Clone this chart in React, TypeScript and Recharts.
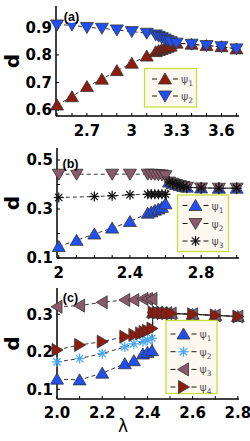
import React from 'react';
import { LineChart, Line, XAxis, YAxis } from 'recharts';

// ---------- Panel (a) ----------
const lamA = [2.5, 2.6, 2.7, 2.8, 2.9, 3.0, 3.1, 3.16, 3.18, 3.2, 3.22, 3.24, 3.26, 3.3, 3.4, 3.5, 3.6, 3.7];
const psiA1 = [0.618, 0.648, 0.685, 0.712, 0.743, 0.77, 0.796, 0.812, 0.816, 0.82, 0.824, 0.828, 0.832, 0.843, 0.839, 0.834, 0.83, 0.822];
const psiA2 = [0.909, 0.909, 0.9, 0.897, 0.891, 0.885, 0.879, 0.873, 0.868, 0.863, 0.858, 0.853, 0.848, 0.843, 0.839, 0.834, 0.83, 0.822];
const xTicksA = [2.5, 2.6, 2.7, 2.8, 2.9, 3.0, 3.1, 3.2, 3.3, 3.4, 3.5, 3.6, 3.7];
const xLabelsA = [2.7, 3.0, 3.3, 3.6];
const yTicksA = [0.6, 0.7, 0.8, 0.9];

// ---------- Panel (b) ----------
const lamBMerged = [2.62, 2.64, 2.66, 2.68, 2.7, 2.72, 2.8, 2.9, 3.0];
const psiBMerged = [0.41, 0.405, 0.4, 0.396, 0.392, 0.389, 0.386, 0.385, 0.385];
const lamB1 = [2.0, 2.1, 2.2, 2.3, 2.4, 2.5, 2.52, 2.54, 2.56, 2.58, 2.6];
const psiB1 = [0.147, 0.172, 0.198, 0.222, 0.249, 0.283, 0.288, 0.295, 0.3, 0.307, 0.321];
const lamB2 = [2.0, 2.1, 2.3, 2.4, 2.5, 2.52, 2.54, 2.56, 2.58, 2.6];
const psiB2 = [0.442, 0.442, 0.442, 0.442, 0.442, 0.442, 0.441, 0.44, 0.439, 0.436];
const lamB3 = [2.0, 2.2, 2.3, 2.4, 2.5, 2.52, 2.54, 2.56, 2.58, 2.6];
const psiB3 = [0.347, 0.351, 0.354, 0.358, 0.36, 0.36, 0.36, 0.36, 0.36, 0.36];
const xTicksB = [2.0, 2.1, 2.2, 2.3, 2.4, 2.5, 2.6, 2.7, 2.8, 2.9, 3.0];
const xLabelsB = [2.0, 2.4, 2.8];
const yTicksB = [0.1, 0.2, 0.3, 0.4, 0.5];
const yLabelsB = [0.1, 0.3, 0.5];

// ---------- Panel (c) ----------
const lamCMerged = [2.425, 2.445, 2.465, 2.485, 2.505, 2.6, 2.7, 2.8];
const psiCMerged = [0.305, 0.304, 0.303, 0.303, 0.302, 0.3, 0.297, 0.294];
const lamC123 = [2.0, 2.1, 2.2, 2.3, 2.34, 2.38, 2.4, 2.42];
const psiC1 = [0.127, 0.125, 0.143, 0.168, 0.176, 0.194, 0.198, 0.203];
const psiC2 = [0.173, 0.182, 0.195, 0.213, 0.221, 0.227, 0.231, 0.236];
const psiC3 = [0.32, 0.323, 0.332, 0.338, 0.338, 0.341, 0.341, 0.341];
const lamC4 = [2.0, 2.1, 2.2, 2.3, 2.34, 2.37, 2.385, 2.4, 2.42];
const psiC4 = [0.205, 0.218, 0.227, 0.24, 0.245, 0.249, 0.253, 0.256, 0.262];
const xTicksC = [2.0, 2.1, 2.2, 2.3, 2.4, 2.5, 2.6, 2.7, 2.8];
const xLabelsC = [2.0, 2.2, 2.4, 2.6, 2.8];
const yTicksC = [0.1, 0.2, 0.3];

const RED = '#8e1c0e';
const BLUE = '#2150f2';
const MAUVE = '#8a5a6a';
const LIGHTBLUE = '#4aa8f5';
const BLACK = '#111';

const zip = (xs: number[], ys: number[]) => xs.map((x, i) => ({ x, y: ys[i] }));
const has = (list: number[], v: number) => list.some((t) => Math.abs(t - v) < 1e-6);

type Kind = 'up' | 'down' | 'left' | 'right' | 'star';

function Marker({ kind, cx, cy, fill }: { kind: Kind; cx: number; cy: number; fill: string }) {
  if (cx == null || cy == null || isNaN(cx) || isNaN(cy)) return null;
  const edge = '#333';
  if (kind === 'star') {
    const r = 5;
    const d = r * 0.72;
    return (
      <g stroke={fill} strokeWidth={1.3}>
        <line x1={cx - r} y1={cy} x2={cx + r} y2={cy} />
        <line x1={cx} y1={cy - r} x2={cx} y2={cy + r} />
        <line x1={cx - d} y1={cy - d} x2={cx + d} y2={cy + d} />
        <line x1={cx - d} y1={cy + d} x2={cx + d} y2={cy - d} />
      </g>
    );
  }
  let pts = '';
  if (kind === 'up') pts = `${cx},${cy - 6} ${cx + 6.5},${cy + 5} ${cx - 6.5},${cy + 5}`;
  if (kind === 'down') pts = `${cx},${cy + 6} ${cx + 6.5},${cy - 5} ${cx - 6.5},${cy - 5}`;
  if (kind === 'left') pts = `${cx - 6},${cy} ${cx + 5},${cy - 6.5} ${cx + 5},${cy + 6.5}`;
  if (kind === 'right') pts = `${cx + 6},${cy} ${cx - 5},${cy - 6.5} ${cx - 5},${cy + 6.5}`;
  return <polygon points={pts} fill={fill} stroke={edge} strokeWidth={0.8} />;
}

type Series = { data: { x: number; y: number }[]; kind: Kind; fill: string };

const tickFont = { fontSize: 15, fontWeight: 'bold' as const, fill: '#000', fontFamily: 'DejaVu Sans' };
const axisLine = { stroke: '#000', strokeWidth: 1.5 };
const tickLine = { stroke: '#000', strokeWidth: 1 };

function Panel(props: {
  top: number;
  height: number;
  marginTop: number;
  bottomH: number;
  leftW: number;
  xDomain: [number, number];
  yDomain: [number, number];
  xTicks: number[];
  yTicks: number[];
  xFmt: (v: number) => string;
  yFmt: (v: number) => string;
  xMargin: number;
  series: Series[];
}) {
  const { top, height, marginTop, bottomH, leftW, xDomain, yDomain, xTicks, yTicks, xFmt, yFmt, xMargin, series } = props;
  return (
    <div style={{ position: 'absolute', left: 0, top, width: 250, height }}>
      <LineChart width={250} height={height} margin={{ top: marginTop, right: 11, bottom: 0, left: 0 }}>
        <XAxis xAxisId="b" type="number" dataKey="x" domain={xDomain} ticks={xTicks} interval={0}
          tickFormatter={xFmt} tickSize={-3} tickMargin={xMargin} height={bottomH}
          axisLine={axisLine} tickLine={tickLine} tick={tickFont} />
        <XAxis xAxisId="t" orientation="top" type="number" dataKey="x" domain={xDomain} ticks={xTicks} interval={0}
          tickFormatter={() => ''} tickSize={-3} height={0} axisLine={axisLine} tickLine={tickLine} />
        <YAxis yAxisId="l" type="number" dataKey="y" domain={yDomain} ticks={yTicks} interval={0}
          tickFormatter={yFmt} tickSize={-3} tickMargin={7} width={leftW}
          axisLine={axisLine} tickLine={tickLine} tick={tickFont} />
        <YAxis yAxisId="r" orientation="right" type="number" dataKey="y" domain={yDomain} ticks={yTicks} interval={0}
          tickFormatter={() => ''} tickSize={-3} width={0} axisLine={axisLine} tickLine={tickLine} />
        {series.map((s, si) => (
          <Line key={si} xAxisId="b" yAxisId="l" data={s.data} dataKey="y" type="linear"
            stroke="#000" strokeWidth={0.8} strokeDasharray="4 3" isAnimationActive={false}
            activeDot={false} legendType="none"
            dot={(p: any) => <Marker key={`m${si}-${p.index}`} kind={s.kind} cx={p.cx} cy={p.cy} fill={s.fill} />} />
        ))}
      </LineChart>
    </div>
  );
}

function LegendBox({ x, y, w, h, rows }: { x: number; y: number; w: number; h: number;
  rows: { kind: Kind; fill: string; sub: string; cy: number; mx: number }[] }) {
  return (
    <g>
      <rect x={x} y={y} width={w} height={h} fill="#fdf8ef" stroke="#c5df3c" strokeWidth={1.3} />
      {rows.map((r, i) => (
        <g key={i}>
          <line x1={r.mx - 13} y1={r.cy} x2={r.mx - 8} y2={r.cy} stroke="#000" strokeWidth={0.9} />
          <line x1={r.mx + 8} y1={r.cy} x2={r.mx + 13} y2={r.cy} stroke="#000" strokeWidth={0.9} />
          <Marker kind={r.kind} cx={r.mx} cy={r.cy} fill={r.fill} />
          <text x={r.mx + 16} y={r.cy + 4} fontSize={11} fill="#555" fontFamily="DejaVu Sans">
            ψ<tspan fontSize={7.5} dy={3}>{r.sub}</tspan>
          </text>
        </g>
      ))}
    </g>
  );
}

function PanelTag({ cx, cy, t }: { cx: number; cy: number; t: string }) {
  return (
    <g>
      <ellipse cx={cx} cy={cy} rx={8} ry={7} fill="#fff" />
      <text x={cx} y={cy + 4.5} textAnchor="middle" fontSize={12.5} fontWeight="bold" fontFamily="Liberation Sans">{t}</text>
    </g>
  );
}

function DLabel({ y }: { y: number }) {
  return (
    <text x={18.5} y={y} transform={`rotate(-90 18.5 ${y})`} textAnchor="middle" fontSize={20}
      fontWeight="bold" fontFamily="DejaVu Sans">d</text>
  );
}

export default function App() {
  const seriesA: Series[] = [
    { data: zip(lamA, psiA1), kind: 'up', fill: RED },
    { data: zip(lamA, psiA2), kind: 'down', fill: BLUE },
  ];
  const seriesB: Series[] = [
    { data: zip([...lamB1, ...lamBMerged], [...psiB1, ...psiBMerged]), kind: 'up', fill: BLUE },
    { data: zip([...lamB2, ...lamBMerged], [...psiB2, ...psiBMerged]), kind: 'down', fill: MAUVE },
    { data: zip([...lamB3, ...lamBMerged], [...psiB3, ...psiBMerged]), kind: 'star', fill: BLACK },
  ];
  const seriesC: Series[] = [
    { data: zip([...lamC123, ...lamCMerged], [...psiC1, ...psiCMerged]), kind: 'up', fill: BLUE },
    { data: zip([...lamC123, ...lamCMerged], [...psiC2, ...psiCMerged]), kind: 'star', fill: LIGHTBLUE },
    { data: zip([...lamC123, ...lamCMerged], [...psiC3, ...psiCMerged]), kind: 'left', fill: MAUVE },
    { data: zip([...lamC4, ...lamCMerged], [...psiC4, ...psiCMerged]), kind: 'right', fill: RED },
  ];
  return (
    <div style={{ position: 'absolute', left: 0, top: 0, width: 250, height: 441, background: '#fff', overflow: 'hidden' }}>
      <Panel top={0} height={140} marginTop={6} bottomH={24} leftW={56}
        xDomain={[2.493, 3.717]} yDomain={[0.578, 0.978]} xTicks={xTicksA} yTicks={yTicksA}
        xFmt={(v) => (has(xLabelsA, v) ? String(v) : '')} yFmt={(v) => v.toFixed(1)} xMargin={12}
        series={seriesA} />
      <Panel top={140} height={146} marginTop={8} bottomH={28} leftW={57}
        xDomain={[1.99, 3.013]} yDomain={[0.1, 0.549]} xTicks={xTicksB} yTicks={yTicksB}
        xFmt={(v) => (has(xLabelsB, v) ? String(v) : '')} yFmt={(v) => (has(yLabelsB, v) ? v.toFixed(1) : '')}
        xMargin={12} series={seriesB} />
      <Panel top={280} height={161} marginTop={8} bottomH={42} leftW={57}
        xDomain={[2.0, 2.805]} yDomain={[0.074, 0.37]} xTicks={xTicksC} yTicks={yTicksC}
        xFmt={(v) => (has(xLabelsC, v) ? v.toFixed(1) : '')} yFmt={(v) => v.toFixed(1)} xMargin={11}
        series={seriesC} />
      <svg width={250} height={441} style={{ position: 'absolute', left: 0, top: 0, pointerEvents: 'none' }}>
        <DLabel y={61} />
        <DLabel y={203} />
        <DLabel y={343.5} />
        <text x={123} y={432} textAnchor="middle" fontSize={17} fontFamily="DejaVu Sans">λ</text>
        <PanelTag cx={71.5} cy={16} t="(a)" />
        <PanelTag cx={70.5} cy={163} t="(b)" />
        <PanelTag cx={70.5} cy={297.5} t="(c)" />
        <LegendBox x={144.5} y={68.5} w={52} h={38.5} rows={[
          { kind: 'up', fill: RED, sub: '1', cy: 79, mx: 165 },
          { kind: 'down', fill: BLUE, sub: '2', cy: 96, mx: 165 },
        ]} />
        <LegendBox x={177.5} y={195} w={51} h={56.5} rows={[
          { kind: 'up', fill: BLUE, sub: '1', cy: 205.5, mx: 195.5 },
          { kind: 'down', fill: MAUVE, sub: '2', cy: 223.5, mx: 195.5 },
          { kind: 'star', fill: BLACK, sub: '3', cy: 241, mx: 195.5 },
        ]} />
        <LegendBox x={166} y={320.5} w={51} h={73} rows={[
          { kind: 'up', fill: BLUE, sub: '1', cy: 334, mx: 183.5 },
          { kind: 'star', fill: LIGHTBLUE, sub: '2', cy: 351.7, mx: 183.5 },
          { kind: 'left', fill: MAUVE, sub: '3', cy: 369.4, mx: 183.5 },
          { kind: 'right', fill: RED, sub: '4', cy: 387, mx: 183.5 },
        ]} />
      </svg>
    </div>
  );
}
